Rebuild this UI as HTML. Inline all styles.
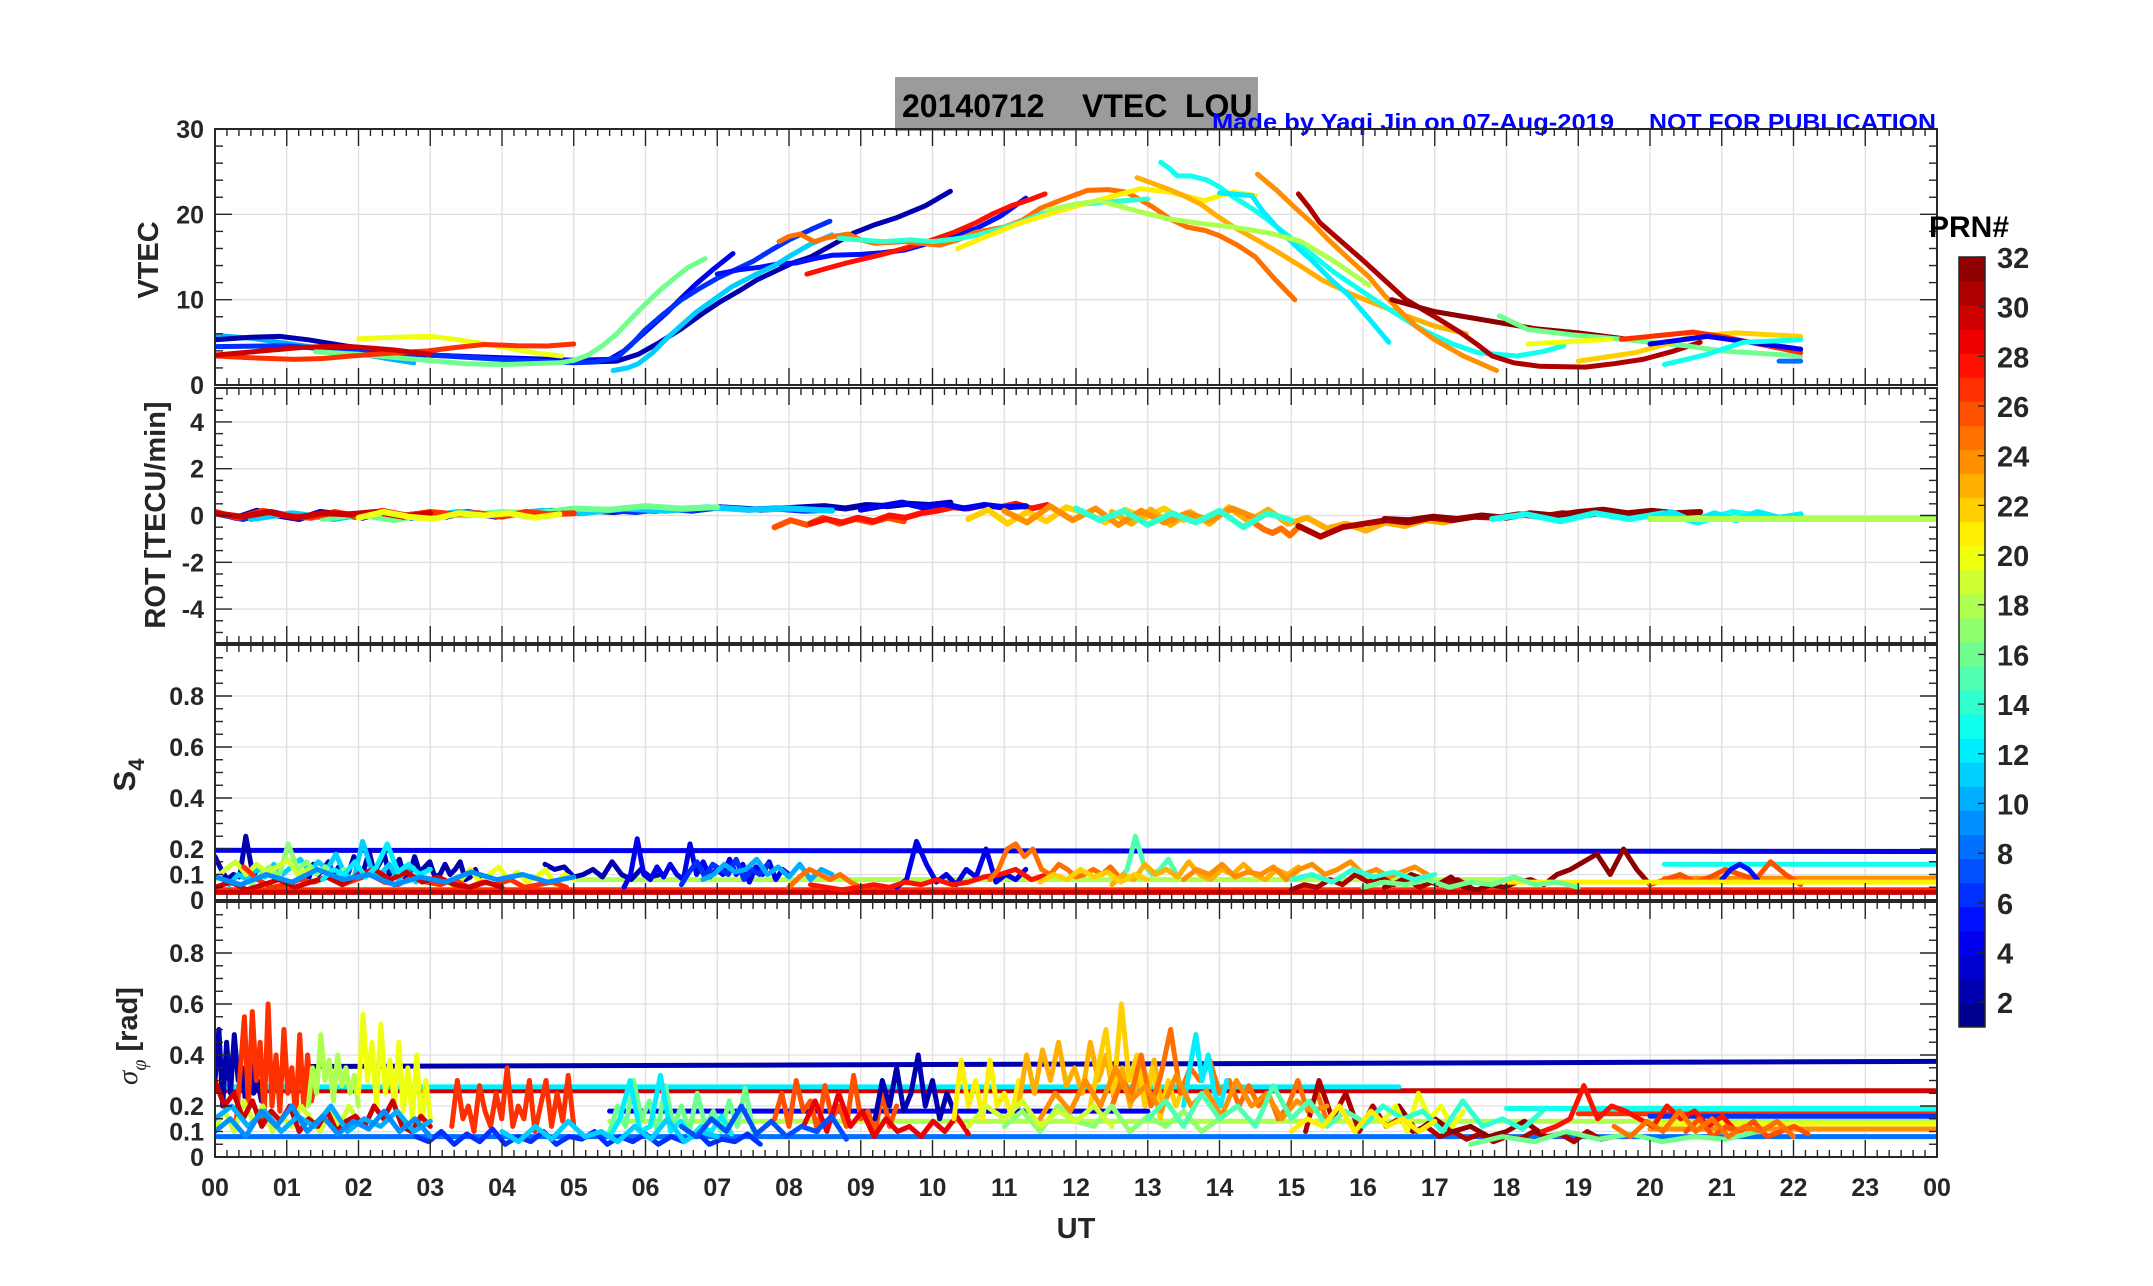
<!DOCTYPE html>
<html><head><meta charset="utf-8"><style>
html,body{margin:0;padding:0;background:#fff;}
svg{display:block;font-family:"Liberation Sans",Arial,sans-serif;}
</style></head><body>
<svg id="fig" width="2153" height="1286" viewBox="0 0 2153 1286" xmlns="http://www.w3.org/2000/svg">
<rect x="0" y="0" width="2153" height="1286" fill="#fff"/>
<g>
<rect x="895" y="77" width="363" height="54" fill="#9b9b9b"/>
<text x="902" y="117" font-size="32" font-weight="bold" fill="#000">20140712</text>
<text x="1082" y="117" font-size="32" font-weight="bold" fill="#000">VTEC</text>
<text x="1185" y="117" font-size="32" font-weight="bold" fill="#000">LOU</text>
</g>
<text x="1212" y="130" font-size="23" font-weight="bold" fill="#0000ff" textLength="402" lengthAdjust="spacingAndGlyphs">Made by Yaqi Jin on 07-Aug-2019</text>
<text x="1649" y="130" font-size="23" font-weight="bold" fill="#0000ff" textLength="287" lengthAdjust="spacingAndGlyphs">NOT FOR PUBLICATION</text>
<g id="plots"></g>
<text transform="translate(158,260) rotate(-90)" text-anchor="middle" font-size="29" font-weight="bold" fill="#262626">VTEC</text>
<text transform="translate(165,515) rotate(-90)" text-anchor="middle" font-size="29" font-weight="bold" fill="#262626">ROT [TECU/min]</text>
<text transform="translate(135,775) rotate(-90)" text-anchor="middle" font-size="31" font-weight="bold" fill="#262626">S<tspan font-size="22" dy="9">4</tspan></text>
<text transform="translate(137,1036) rotate(-90)" text-anchor="middle" font-size="29" font-weight="bold" fill="#262626"><tspan font-family="Liberation Serif" font-style="italic" font-weight="normal">σ</tspan><tspan font-family="Liberation Serif" font-style="italic" font-weight="normal" font-size="20" dy="9">φ</tspan><tspan dy="-9"> [rad]</tspan></text>
<text x="1076" y="1238" text-anchor="middle" font-size="29" font-weight="bold" fill="#262626">UT</text>
<g id="cbar"></g>
<text x="1929" y="237" font-size="30" font-weight="bold" fill="#000">PRN#</text>
</svg>
<script>
// ---------------- data ----------------
const xTickLabels=["00","01","02","03","04","05","06","07","08","09","10","11","12","13","14","15","16","17","18","19","20","21","22","23","00"];
const cbarTicks=[2,4,6,8,10,12,14,16,18,20,22,24,26,28,30,32];
const vtecPrn=[10,2,4,6,5,11,16,20,27,30,28,25,14,21,23,13,12,18,24,31,32,16,20,22,27,4,13,8];
const vtecTracks=[
[[0,5.8],[0.5,5.5],[0.9,5.0],[1.4,4.4],[1.9,3.8],[2.4,3.1],[2.77,2.6]],
[[0,5.3],[0.5,5.6],[0.9,5.7],[1.3,5.3],[1.8,4.6],[2.3,4.0],[2.8,3.6],[3.3,3.4],[3.8,3.2],[4.3,3.0],[4.8,2.8],[5.2,2.7],[5.6,2.8],[5.9,3.6],[6.2,5.0],[6.5,6.6],[6.8,8.4],[7.05,9.8],[7.3,11.0],[7.55,12.3],[7.8,13.3],[8.05,14.3],[8.3,15.0],[8.6,16.4],[8.9,17.8],[9.2,18.8],[9.5,19.6],[9.9,21.0],[10.25,22.7]],
[[3.0,3.5],[4.0,3.2],[5.0,2.9],[5.5,3.0],[5.7,4.0],[5.9,5.5],[6.1,7.0],[6.3,8.5],[6.5,10.2],[6.7,11.8],[6.95,13.6],[7.22,15.4]],
[[0,4.5],[1,4.6],[2,3.9],[3,3.5],[4,3.0],[5,2.6],[5.3,2.7],[5.6,3.2],[5.8,4.7],[6.0,6.5],[6.25,8.3],[6.5,10],[6.75,11.3],[7,12.5],[7.25,13.5],[7.5,14.5],[7.75,15.8],[8,17],[8.3,18.2],[8.57,19.2]],
[[7.0,13],[7.3,13.5],[7.6,13.8],[7.85,14.2],[8.1,14.3],[8.35,14.8],[8.6,15.2],[9.0,15.3],[9.3,15.5],[9.6,15.8],[9.9,16.5],[10.25,17.3],[10.6,18.3],[10.95,19.8],[11.3,21.9]],
[[5.55,1.7],[5.75,2.0],[5.9,2.5],[6.1,3.8],[6.3,5.5],[6.5,7.0],[6.7,8.5],[6.95,10.0],[7.2,11.5],[7.5,12.8],[7.8,14],[8.05,15.3],[8.3,16.5],[8.6,17.6]],
[[1.4,3.9],[2,3.6],[2.8,3.0],[3.5,2.5],[4.0,2.4],[4.8,2.6],[5.0,2.9],[5.2,3.5],[5.4,4.6],[5.6,6],[5.8,7.8],[6.0,9.5],[6.2,11.1],[6.4,12.5],[6.6,13.8],[6.83,14.8]],
[[2.0,5.4],[2.5,5.6],[3.0,5.7],[3.4,5.3],[3.7,4.9],[4.1,4.3],[4.5,3.7],[4.83,3.4]],
[[0,3.4],[0.5,3.2],[1.1,3.0],[1.5,3.1],[1.9,3.4],[2.4,3.7],[2.97,4.0],[3.35,4.4],[3.75,4.75],[4.2,4.6],[4.63,4.57],[5.0,4.8]],
[[0,3.5],[0.4,3.8],[0.8,4.1],[1.2,4.4],[1.5,4.5],[1.9,4.5],[2.2,4.3],[2.5,4.1],[2.8,3.8],[3.0,3.6]],
[[8.25,13],[8.5,13.6],[8.8,14.3],[9.05,14.8],[9.3,15.3],[9.65,16.1],[10,17],[10.3,17.9],[10.6,19],[10.85,20.1],[11.1,21],[11.35,21.7],[11.57,22.4]],
[[7.86,16.8],[8.0,17.4],[8.15,17.7],[8.35,16.8],[8.55,17.3],[8.83,17.7],[9.0,17.0],[9.2,16.6],[9.6,16.8],[10.1,16.4],[10.35,17.0],[10.6,17.9],[11.0,18.5],[11.25,19.3],[11.5,20.7],[11.8,21.7],[12.16,22.8],[12.45,22.9],[12.7,22.6],[12.9,21.7],[13.08,20.8],[13.3,19.5],[13.55,18.5],[13.8,18.1],[14.0,17.5],[14.25,16.4],[14.5,15.0],[14.75,12.6],[15.05,10.0]],
[[8.7,17.2],[9.0,17.0],[9.3,16.8],[9.7,17.0],[10.0,16.8],[10.3,17.1],[10.6,17.5],[10.9,18.2],[11.2,19],[11.5,20.0],[11.8,20.8],[12.1,21.2],[12.5,21.5],[13.0,21.8]],
[[10.35,16],[10.75,17.4],[11.2,18.9],[11.65,20.1],[12.1,21.2],[12.5,22.1],[12.9,23],[13.3,22.6],[13.55,22.1],[13.8,21.6],[14.0,22.2],[14.2,22.6],[14.5,22.2]],
[[12.85,24.3],[13.05,23.7],[13.27,23],[13.5,22.2],[13.74,21.2],[13.95,19.9],[14.2,18.5],[14.5,17.1],[14.77,15.8],[15.1,14.1],[15.43,12.3],[15.85,10.6],[16.27,9.2],[16.6,8.1],[17.0,6.9],[17.44,6.0]],
[[13.18,26.1],[13.3,25.4],[13.41,24.5],[13.6,24.5],[13.83,24],[14.0,23.2],[14.2,22],[14.45,20.7],[14.68,19.3],[15.0,17.2],[15.33,15.0],[15.6,13.2],[15.9,11.5],[16.2,9.8],[16.45,8.4],[16.7,7.1],[16.92,6.1],[17.25,4.8],[17.6,3.8],[18.14,3.4],[18.5,3.9],[18.8,4.6]],
[[14.0,22.5],[14.45,22.2],[14.6,20.4],[14.8,18.5],[15.05,16.4],[15.3,14.5],[15.55,12.4],[15.8,10.5],[16.1,7.6],[16.36,5.0]],
[[11.6,20.5],[12.0,21.2],[12.33,21.6],[12.8,20.5],[13.27,19.5],[13.75,18.9],[14.2,18.5],[14.7,17.8],[15.14,16.8],[15.6,14.5],[16.08,11.7]],
[[14.53,24.7],[14.8,22.8],[15.05,20.8],[15.3,18.9],[15.52,17],[15.8,14.8],[16.08,12.7],[16.3,10.5],[16.55,8.4],[16.75,6.8],[17.0,5.3],[17.4,3.4],[17.86,1.7]],
[[15.1,22.4],[15.25,20.8],[15.4,19],[15.7,16.8],[16.0,14.6],[16.3,12.3],[16.6,10],[17.0,8.0],[17.35,6.2],[17.6,4.7],[17.8,3.4],[18.1,2.6],[18.45,2.2],[19.1,2.1],[19.5,2.5],[19.9,3.0],[20.3,3.9],[20.7,5.0]],
[[16.4,10],[17.0,8.6],[17.7,7.6],[18.4,6.6],[19.0,6.1],[19.7,5.35]],
[[17.9,8.1],[18.3,6.5],[18.9,5.9],[19.6,5.35],[20.5,4.6],[21.0,4.0],[22.1,3.4]],
[[18.3,4.8],[19.45,5.35]],
[[19.0,2.8],[19.8,3.8],[20.6,5.7],[21.2,6.1],[22.1,5.7]],
[[19.6,5.35],[20.6,6.2],[21.0,5.7],[22.1,3.8]],
[[20.0,4.8],[20.8,5.7],[22.1,4.2]],
[[20.2,2.4],[20.8,3.6],[21.3,5.0],[22.1,5.3]],
[[21.8,2.8],[22.1,2.8]]
];
const rotPrn=[2,6,11,16,27,30,20,26,28,4,22,23,25,31,32,13,12,18,24,14];
const rotStart=[0,0,0.5,1.5,0,0,2,7.8,8.3,9,10.5,12.5,14.5,15.1,16.3,17.8,20,20,11,12];
const rotEnd=[10.25,8.6,8.6,7,5,3,4.8,9.6,11.6,11.3,13.5,17.4,15.1,19.7,20.7,22.1,22.1,24,14.5,15];
const rotVals=[
[0.15,-0.1,0.2,0,-0.15,0.15,0.05,-0.1,0.15,0,0.1,-0.05,0.15,0,0.1,0.05,0.15,0.1,0.2,0.15,0.25,0.2,0.3,0.25,0.35,0.3,0.25,0.3,0.35,0.4,0.3,0.45,0.4,0.5,0.45,0.55],
[0.1,-0.15,0.15,-0.1,0.1,-0.05,0.1,-0.1,0.05,0.15,-0.05,0.1,0.2,0.1,0.25,0.15,0.3,0.2,0.35,0.25,0.3,0.2,0.25],
[-0.15,0.1,-0.15,0.15,-0.1,0.15,0,0.2,0.1,0.3,0.2,0.35,0.25,0.3,0.2],
[-0.15,0.05,-0.2,0.1,0,0.15,0.1,0.3,0.25,0.4,0.3,0.35],
[0.15,-0.1,0.2,0,-0.1,0.15,-0.05,0.2,0,0.15,0.05,0.1,-0.05,0.15,0.05,0.1],
[0.1,-0.05,0.15,-0.1,0.1,0.05,0.15,-0.05,0.1],
[-0.1,0.15,-0.05,-0.15,0.1,0,0.1,-0.1,0.05],
[-0.5,-0.2,-0.4,-0.1,-0.35,-0.15,-0.3,-0.1,-0.25],
[-0.35,-0.15,-0.3,-0.1,-0.25,0,-0.1,0.1,0.2,0.35,0.3,0.45,0.35,0.5,0.3,0.45],
[0.25,0.4,0.55,0.35,0.5,0.3,0.45,0.35,0.4],
[-0.15,0.25,-0.35,0.15,-0.25,0.35,0.1,-0.3,0.25,-0.1,0.3,-0.2],
[0.15,-0.35,0.25,-0.4,0.15,-0.35,0.35,-0.25,0.25,-0.35,-0.1,-0.55,-0.35,-0.65,-0.3,-0.45,-0.2,-0.3,-0.1],
[-0.35,-0.6,-0.75,-0.55,-0.85,-0.5],
[-0.45,-0.9,-0.5,-0.35,-0.2,-0.3,-0.1,-0.2,-0.05,-0.1,0.05,-0.05,0.1,0,0.15,0.05],
[-0.15,-0.2,-0.05,-0.15,0,-0.1,0.1,0,0.15,0.25,0.1,0.2,0.1,0.15],
[-0.15,0.05,-0.25,0.1,-0.15,0.1,-0.3,0.15,-0.05,-0.15],
[-0.15,0.15,-0.25,0.1,-0.2,0.15,-0.1,0.05],
[-0.15,-0.15],
[0.2,-0.3,0.4,-0.2,0.3,-0.4,0.2,-0.3,0.1,-0.2,0.3,-0.1],
[0.3,-0.2,0.2,-0.4,0.1,-0.3,0.2,-0.5,0.1,-0.2]
];
const s4Prn=[4,27,30,18,2,2,2,4,6,4,11,10,17,19,20,27,30,25,28,25,15,23,24,31,32,13,24,26,5,21,12,22,16,14,9];
const s4Start=[0,0,0,5,0,1.3,4.6,5.7,6.5,9.5,0.2,6.8,0.5,0,3.3,0.4,0,8,8.3,10.8,12.6,12.5,13.5,15.0,16.3,20.2,20.2,20,21.0,18,1.5,11.5,16,15,0];
const s4End=[24,24,24,18,0.6,3.7,6.2,8.0,7.7,11.3,2.8,8.6,1.8,1.3,5,4.9,4,9,11.6,12.6,13.4,15.1,16.9,17.5,20.0,24,24,22.1,21.5,24,3,13,19,17,5];
const s4Vals=[
[0.195,0.19],[0.04,0.04],[0.03,0.03],[0.08,0.08],
[0.17,0.12,0.08,0.1,0.09,0.25,0.12,0.1],
[0.08,0.14,0.1,0.12,0.15,0.1,0.13,0.09,0.11,0.17,0.1,0.12,0.19,0.11,0.14,0.18,0.1,0.12,0.16,0.09,0.1,0.17,0.11,0.13,0.15,0.09,0.1,0.14,0.1,0.12,0.15,0.08,0.09,0.12,0.07],
[0.14,0.12,0.13,0.09,0.1,0.12,0.09,0.15,0.1,0.08,0.12,0.09,0.1],
[0.05,0.1,0.24,0.1,0.08,0.13,0.09,0.14,0.1,0.08,0.22,0.1,0.15,0.09,0.12,0.1,0.16,0.1,0.14,0.07,0.13,0.1,0.15,0.08,0.12,0.1],
[0.06,0.11,0.15,0.09,0.14,0.12,0.1,0.16,0.08,0.12,0.1,0.14],
[0.05,0.08,0.23,0.14,0.07,0.1,0.06,0.12,0.09,0.2,0.07,0.1,0.08,0.12],
[0.06,0.1,0.08,0.12,0.09,0.14,0.1,0.13,0.16,0.11,0.15,0.12,0.18,0.1,0.08,0.23,0.12,0.1,0.14,0.08,0.12,0.07],
[0.08,0.1,0.14,0.11,0.12,0.16,0.1,0.13,0.09,0.14,0.08,0.12,0.1],
[0.06,0.1,0.13,0.09,0.22,0.12,0.15,0.1,0.13,0.08,0.12],
[0.08,0.12,0.15,0.1,0.14,0.11,0.13,0.16,0.1,0.12],
[0.06,0.08,0.12,0.07,0.1,0.13,0.08,0.11,0.07,0.09,0.12,0.06,0.1,0.08],
[0.13,0.08,0.05,0.06,0.08,0.07,0.09,0.06,0.08,0.1,0.07,0.06,0.09,0.07,0.06,0.08,0.05,0.07,0.06,0.08,0.05,0.06,0.07,0.05],
[0.05,0.07,0.04,0.06,0.08,0.05,0.07,0.09,0.06,0.1,0.12,0.08,0.11,0.07,0.09,0.06,0.05,0.07,0.05],
[0.05,0.09,0.12,0.1,0.08,0.1,0.07,0.05],
[0.06,0.05,0.04,0.05,0.06,0.05,0.07,0.06,0.08,0.06,0.07,0.09,0.1,0.12,0.08,0.1],
[0.08,0.12,0.2,0.22,0.17,0.2,0.12,0.1,0.14,0.12,0.09,0.1,0.12,0.1,0.13,0.09],
[0.08,0.12,0.25,0.14,0.1,0.12,0.16,0.1],
[0.06,0.1,0.08,0.14,0.1,0.12,0.09,0.15,0.1,0.08,0.12,0.1,0.14,0.1,0.08,0.12,0.1,0.13],
[0.08,0.12,0.1,0.14,0.09,0.11,0.1,0.13,0.08,0.12,0.14,0.1,0.12,0.15,0.1,0.12,0.09,0.11,0.13,0.1],
[0.04,0.06,0.05,0.08,0.06,0.1,0.07,0.09,0.06,0.08,0.05,0.07,0.06,0.08,0.05],
[0.05,0.07,0.1,0.08,0.06,0.09,0.05,0.04,0.06,0.05,0.07,0.08,0.06,0.1,0.12,0.15,0.18,0.1,0.2,0.12,0.06],
[0.14,0.14],[0.085,0.085],
[0.06,0.08,0.1,0.07,0.09,0.12,0.1,0.08,0.15,0.1,0.06],
[0.08,0.12,0.14,0.12,0.08],
[0.07,0.07],
[0.08,0.12,0.1,0.15,0.09,0.13,0.22,0.11,0.14,0.1,0.12],
[0.07,0.1,0.08,0.12,0.09,0.11,0.07,0.1,0.08],
[0.05,0.07,0.06,0.08,0.05,0.07,0.06,0.09,0.06,0.07,0.05],
[0.08,0.1,0.07,0.12,0.09,0.11,0.08,0.1],
[0.09,0.06,0.1,0.07,0.12,0.08,0.1,0.06,0.09,0.07,0.11,0.08,0.1,0.07,0.09]
];
const sigPrn=[2,30,12,8,4,18,13,27,6,24,20,2,27,18,20,19,30,27,10,6,16,12,26,29,2,21,23,22,25,12,17,31,32,20,14,28,26,16,9,11,7,24,19,15,21,25];
const sigStart=[1.3,0,0,0,5.5,5.5,18,19,20,20,20,0,0.3,1.3,2.0,0,0,3.3,0,2.8,5.5,5.5,7.8,8.2,9.2,10.3,11.2,12.2,12.5,13.5,11,15.2,16.5,16.3,16,18.5,20.5,17.5,0,4,6.5,11.5,10.5,13,15,19.5];
const sigEnd=[24,24,16.5,24,13,24,24,24,24,24,24,0.7,1.4,2.0,3.0,2,3,5,3,7.6,7.5,7.2,9.5,10.5,10.3,11.2,13.2,13.5,15.5,14.1,14,19.5,18.5,17.4,18.5,21.2,22.2,21.5,3,7,8.8,15.5,12.5,16,17,22];
const sigVals=[
[0.355,0.375],[0.26,0.26],[0.275,0.275],[0.08,0.08],[0.18,0.18],[0.14,0.14],[0.19,0.19],[0.17,0.17],[0.16,0.16],[0.11,0.11],[0.13,0.13],
[0.3,0.5,0.2,0.45,0.25,0.48,0.3,0.35,0.2,0.4,0.25,0.3,0.22,0.35],
[0.15,0.35,0.55,0.2,0.57,0.3,0.45,0.15,0.6,0.2,0.4,0.18,0.5,0.25,0.35,0.15,0.48,0.2,0.4,0.22,0.3],
[0.2,0.35,0.25,0.48,0.3,0.38,0.22,0.4,0.28,0.35,0.25,0.32,0.2],
[0.25,0.56,0.3,0.45,0.2,0.52,0.25,0.38,0.2,0.45,0.18,0.35,0.15,0.4,0.12,0.3,0.15],
[0.12,0.18,0.1,0.22,0.14,0.2,0.1,0.16,0.12,0.2,0.15,0.1,0.18,0.12,0.2,0.14],
[0.3,0.2,0.25,0.15,0.22,0.12,0.18,0.14,0.2,0.1,0.15,0.12,0.18,0.1,0.14,0.16,0.12,0.2,0.15,0.22,0.12,0.1,0.16,0.12],
[0.12,0.3,0.15,0.2,0.1,0.28,0.18,0.12,0.25,0.15,0.35,0.12,0.2,0.15,0.3,0.1,0.2,0.3,0.12,0.25,0.14,0.32,0.12],
[0.15,0.2,0.12,0.18,0.1,0.16,0.12,0.2,0.1,0.15,0.12,0.18,0.1,0.14],
[0.08,0.06,0.1,0.05,0.09,0.06,0.11,0.05,0.08,0.06,0.1,0.05,0.08,0.07,0.1,0.05,0.08,0.06,0.09,0.05,0.08,0.06,0.1,0.05,0.07,0.06,0.09,0.05],
[0.1,0.2,0.12,0.3,0.15,0.22,0.1,0.28,0.12,0.2,0.1,0.25,0.12,0.18,0.1,0.22,0.12,0.27,0.1],
[0.08,0.15,0.3,0.1,0.12,0.32,0.1,0.14,0.08,0.12,0.1,0.16,0.09],
[0.15,0.25,0.12,0.3,0.18,0.22,0.1,0.28,0.15,0.2,0.12,0.32,0.15,0.18,0.1,0.25,0.12,0.2],
[0.12,0.22,0.1,0.25,0.12,0.18,0.08,0.15,0.1,0.12,0.08,0.14,0.1,0.16,0.09],
[0.15,0.3,0.2,0.35,0.18,0.25,0.4,0.2,0.3,0.15,0.25,0.18],
[0.15,0.38,0.2,0.3,0.15,0.38,0.2,0.25,0.16,0.3],
[0.2,0.4,0.25,0.42,0.3,0.45,0.28,0.35,0.25,0.45,0.3,0.4,0.22,0.35,0.2,0.3,0.24,0.38,0.2],
[0.2,0.35,0.5,0.25,0.6,0.3,0.4,0.2,0.35,0.15,0.3,0.2,0.28],
[0.2,0.3,0.25,0.4,0.2,0.32,0.5,0.25,0.35,0.3,0.38,0.25,0.3,0.2,0.28,0.2,0.25,0.15,0.2,0.3,0.18,0.25,0.14],
[0.2,0.35,0.48,0.3,0.4,0.25,0.2,0.3],
[0.12,0.18,0.1,0.2,0.14,0.12,0.2,0.1,0.16,0.12,0.18,0.1,0.15],
[0.1,0.3,0.15,0.25,0.1,0.2,0.12,0.15,0.1,0.12,0.08,0.1,0.07,0.09,0.06,0.08,0.07,0.1,0.08,0.09,0.06,0.1,0.07,0.08],
[0.2,0.1,0.15,0.1,0.12,0.08,0.1,0.14,0.09],
[0.15,0.2,0.1,0.25,0.15,0.2,0.12,0.18],
[0.12,0.2,0.15,0.18,0.1,0.22,0.12,0.15,0.11,0.18],
[0.1,0.12,0.15,0.28,0.15,0.2,0.18,0.15,0.12,0.2,0.15,0.18,0.12,0.16,0.1],
[0.1,0.15,0.08,0.12,0.1,0.14,0.08,0.1,0.12,0.09],
[0.05,0.08,0.06,0.1,0.07,0.09,0.06,0.08,0.07,0.1],
[0.1,0.15,0.08,0.18,0.12,0.2,0.1,0.16,0.09,0.14,0.11,0.18,0.1,0.15,0.08],
[0.1,0.06,0.12,0.07,0.14,0.08,0.1,0.06,0.12,0.07,0.15,0.06,0.1,0.08],
[0.12,0.08,0.15,0.1,0.2,0.09,0.14,0.08,0.12,0.1,0.16,0.07],
[0.15,0.25,0.18,0.3,0.2,0.35,0.22,0.28,0.18,0.32,0.2,0.26,0.16,0.3,0.2,0.25,0.15,0.22,0.18,0.2],
[0.12,0.2,0.15,0.22,0.12,0.18,0.14,0.2,0.12],
[0.15,0.22,0.12,0.25,0.15,0.2,0.12,0.28,0.15,0.22,0.12,0.18,0.14],
[0.1,0.15,0.12,0.2,0.1,0.18,0.12,0.15,0.1,0.14],
[0.12,0.08,0.14,0.1,0.18,0.1,0.15,0.08,0.12,0.1,0.14,0.08]
];
// ---------------- rendering ----------------
const NS="http://www.w3.org/2000/svg";
const X0=215,X1=1937;
function xs(h){return X0+(X1-X0)*h/24;}
function jet(p){const x=(p-0.5)/32;const c=v=>Math.round(255*Math.max(0,Math.min(1,v)));
 return "rgb("+c(1.5-Math.abs(4*x-3))+","+c(1.5-Math.abs(4*x-2))+","+c(1.5-Math.abs(4*x-1))+")";}
function mk(tag,attrs,parent){const e=document.createElementNS(NS,tag);for(const k in attrs)e.setAttribute(k,attrs[k]);parent.appendChild(e);return e;}
const plots=document.getElementById('plots');
const panels=[
 {name:'vtec',top:129,bot:385,min:0,max:30,major:[0,10,20,30],labels:["0","10","20","30"],minor:2},
 {name:'rot',top:388,bot:643,min:-5.45,max:5.45,major:[-4,-2,0,2,4],labels:["-4","-2","0","2","4"],minor:0.5},
 {name:'s4',top:645,bot:900,min:0,max:1,major:[0,0.1,0.2,0.4,0.6,0.8],labels:["0","0.1","0.2","0.4","0.6","0.8"],minor:0.05},
 {name:'sigma',top:902,bot:1157,min:0,max:1,major:[0,0.1,0.2,0.4,0.6,0.8],labels:["0","0.1","0.2","0.4","0.6","0.8"],minor:0.05}
];
panels.forEach((P,pi)=>{
 const ys=v=>P.bot-(v-P.min)/(P.max-P.min)*(P.bot-P.top);
 P.ys=ys;
 const g=mk('g',{},plots);
 
 
 for(let h=1;h<24;h++){const l=mk('line',{x1:xs(h),x2:xs(h),y1:P.top,y2:P.bot,stroke:'#e0e0e0','stroke-width':1.3},g);
  }
 P.major.forEach(v=>{if(v===P.min)return;const l=mk('line',{x1:X0,x2:X1,y1:ys(v),y2:ys(v),stroke:'#e0e0e0','stroke-width':1.3},g);
  });
 const cp=mk('clipPath',{id:'clip'+pi},g);mk('rect',{x:X0,y:P.top,width:X1-X0,height:P.bot-P.top},cp);
 P.dg=mk('g',{'clip-path':'url(#clip'+pi+')'},g);
 const tg=mk('g',{stroke:'#262626','stroke-width':1.4},g);
 for(let m=0;m<=144;m++){const x=xs(m/6);const L=(m%6===0)?17:7;
  mk('line',{x1:x,x2:x,y1:P.top,y2:P.top+L},tg);mk('line',{x1:x,x2:x,y1:P.bot,y2:P.bot-L},tg);}
 const first=Math.ceil(P.min/P.minor);
 for(let k=first;k*P.minor<=P.max+1e-9;k++){const v=k*P.minor;const isMaj=P.major.some(m=>Math.abs(m-v)<1e-6)&&Math.abs(v-0.1)>1e-6;const L=isMaj?17:8;
  mk('line',{x1:X0,x2:X0+L,y1:ys(v),y2:ys(v)},tg);mk('line',{x1:X1,x2:X1-L,y1:ys(v),y2:ys(v)},tg);}
 mk('rect',{x:X0,y:P.top,width:X1-X0,height:P.bot-P.top,fill:'none',stroke:'#262626','stroke-width':2},g);
 P.major.forEach((v,i)=>{const t=mk('text',{x:204,y:ys(v)+9,'text-anchor':'end','font-size':25,'font-weight':'bold',fill:'#262626'},g);
  t.textContent=P.labels[i];});
});
function drawLine(P,pts,prn,w,name){
 const d=pts.map((p,i)=>(i?'L':'M')+xs(p[0]).toFixed(1)+' '+P.ys(p[1]).toFixed(1)).join(' ');
 const e=mk('path',{d:d,fill:'none',stroke:jet(prn),'stroke-width':w,'stroke-linejoin':'round','stroke-linecap':'round'},P.dg);
 
 
}
vtecTracks.forEach((tr,i)=>drawLine(panels[0],tr,vtecPrn[i],5,'vtec-line-prn'+vtecPrn[i]));
function segs(P,prns,st,en,vals,w,nm){
 prns.forEach((p,i)=>{const v=vals[i];const n=v.length;
  const pts=v.map((y,k)=>[st[i]+(en[i]-st[i])*(n>1?k/(n-1):0),y]);
  drawLine(P,pts,p,w,nm+'-prn'+p);});
}
segs(panels[1],rotPrn,rotStart,rotEnd,rotVals,6,'rot-line');
segs(panels[2],s4Prn,s4Start,s4End,s4Vals,5,'s4-line');
segs(panels[3],sigPrn,sigStart,sigEnd,sigVals,5,'sigma-line');
xTickLabels.forEach((s,i)=>{const t=mk('text',{x:xs(i),y:1196,'text-anchor':'middle','font-size':25,'font-weight':'bold',fill:'#262626'},plots);
 t.textContent=s;});
const cb=document.getElementById('cbar');
const CT=257,CB=1027,CX=1959,CW=26;
const cy=v=>CB-(v-1)/31*(CB-CT);
for(let k=0;k<32;k++){const y0=CB-(k+1)*(CB-CT)/32,r=mk('rect',{x:CX,y:y0,width:CW,height:(CB-CT)/32+0.5,fill:jet(k+1)},cb);
 }
mk('rect',{x:CX,y:CT,width:CW,height:CB-CT,fill:'none',stroke:'#262626','stroke-width':1.5},cb);
cbarTicks.forEach(v=>{mk('line',{x1:CX+CW-7,x2:CX+CW,y1:cy(v),y2:cy(v),stroke:'#262626','stroke-width':1.3},cb);
 const t=mk('text',{x:1997,y:cy(v)+11,'font-size':29,'font-weight':'bold',fill:'#262626'},cb);t.textContent=v;
 });
</script>
</body></html>
